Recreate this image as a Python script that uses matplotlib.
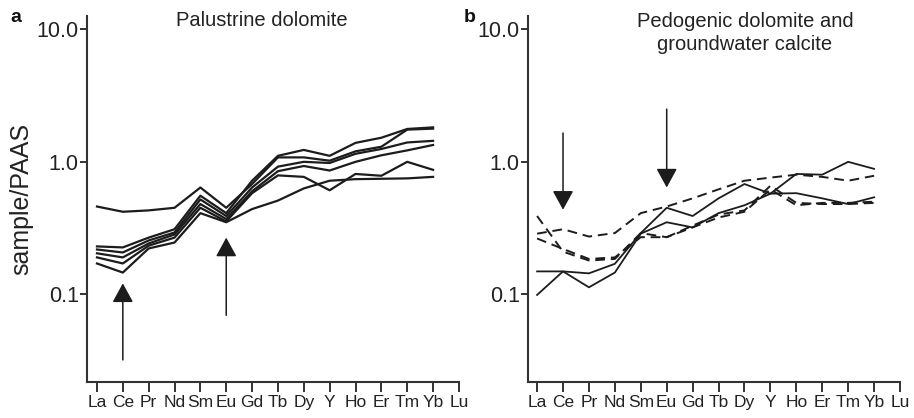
import matplotlib
matplotlib.use("Agg")
import matplotlib.pyplot as plt
from matplotlib import font_manager

elements = ["La", "Ce", "Pr", "Nd", "Sm", "Eu", "Gd", "Tb", "Dy", "Y",
            "Ho", "Er", "Tm", "Yb", "Lu"]

# panel a, palustrine dolomite (values La..Yb, sample/PAAS)
pal_1 = [0.46, 0.42, 0.43, 0.45, 0.64, 0.45, 0.68, 1.08, 1.08, 1.02, 1.20, 1.30, 1.75, 1.78]
pal_2 = [0.23, 0.226, 0.268, 0.31, 0.555, 0.41, 0.72, 1.11, 1.23, 1.11, 1.39, 1.52, 1.77, 1.82]
pal_3 = [0.218, 0.207, 0.255, 0.293, 0.52, 0.39, 0.64, 0.92, 1.00, 0.98, 1.15, 1.25, 1.40, 1.44]
pal_4 = [0.204, 0.19, 0.242, 0.283, 0.48, 0.37, 0.60, 0.85, 0.93, 0.86, 1.00, 1.12, 1.22, 1.34]
pal_5 = [0.19, 0.171, 0.233, 0.268, 0.45, 0.355, 0.58, 0.79, 0.77, 0.61, 0.81, 0.785, 1.00, 0.87]
pal_6 = [0.171, 0.146, 0.222, 0.246, 0.41, 0.35, 0.44, 0.51, 0.63, 0.72, 0.74, 0.745, 0.75, 0.77]
palustrine = [pal_1, pal_2, pal_3, pal_4, pal_5, pal_6]

# panel b, pedogenic dolomite (solid) and groundwater calcite (dashed)
ped_1 = [0.099, 0.149, 0.113, 0.146, 0.287, 0.35, 0.32, 0.41, 0.47, 0.575, 0.81, 0.80, 1.00, 0.885]
ped_2 = [0.149, 0.149, 0.144, 0.17, 0.29, 0.45, 0.39, 0.53, 0.68, 0.575, 0.58, 0.53, 0.48, 0.54]
gw_1 = [0.287, 0.31, 0.273, 0.29, 0.41, 0.46, 0.53, 0.62, 0.72, 0.76, 0.80, 0.77, 0.72, 0.785]
gw_2 = [0.39, 0.21, 0.18, 0.185, 0.29, 0.27, 0.32, 0.38, 0.42, 0.62, 0.47, 0.49, 0.49, 0.50]
gw_3 = [0.264, 0.22, 0.185, 0.19, 0.27, 0.27, 0.33, 0.40, 0.43, 0.66, 0.49, 0.48, 0.48, 0.49]
pedogenic = [ped_1, ped_2]
groundwater = [gw_1, gw_2, gw_3]

# arrows: (element index, tail value, tip value)
arrows_a = [(1, 0.032, 0.121), (5, 0.0695, 0.268)]
arrows_b = [(1, 1.65, 0.435), (5, 2.5, 0.64)]

yticks = [0.1, 1.0, 10.0]
ytick_labels = ["0.1", "1.0", "10.0"]

names = {f.name for f in font_manager.fontManager.ttflist}
if "Liberation Sans Narrow" in names:
    narrow, xsize = "Liberation Sans Narrow", 15.5
elif "DejaVu Sans Condensed" in names:
    narrow, xsize = "DejaVu Sans Condensed", 12.5
else:
    narrow, xsize = "Liberation Sans", 12.5
plt.rcParams["font.family"] = ["Liberation Sans", "DejaVu Sans"]

ink = "#1c1c1c"
fig = plt.figure(figsize=(9.14, 4.18), dpi=100)
ax_a = fig.add_axes([0.0952, 0.0861, 0.4069, 0.8756])
ax_b = fig.add_axes([0.5777, 0.0861, 0.4070, 0.8756])


def style_axis(ax, xleft):
    ax.set_yscale("log")
    ax.set_ylim(0.0218, 12.6)
    ax.set_xlim(xleft, 14.0)
    for s in ["top", "right"]:
        ax.spines[s].set_visible(False)
    for s in ["left", "bottom"]:
        ax.spines[s].set_linewidth(1.5)
        ax.spines[s].set_color("#333333")
    ax.set_yticks(yticks)
    ax.set_yticklabels(ytick_labels)
    ax.yaxis.set_minor_locator(matplotlib.ticker.NullLocator())
    ax.set_xticks(range(len(elements)))
    ax.set_xticklabels(elements, fontfamily=narrow, fontsize=xsize)
    ax.tick_params(axis="y", length=5, width=1.4, pad=1, labelsize=15.5, colors="#333333", labelcolor="#222222")
    ax.tick_params(axis="x", length=7, width=1.4, pad=2, colors="#333333", labelcolor="#222222")


def draw_arrows(ax, arrows):
    for i, tail, tip in arrows:
        ax.annotate("", xy=(i, tip), xytext=(i, tail),
                    arrowprops=dict(arrowstyle="-|>,head_length=0.42,head_width=0.23",
                                    mutation_scale=28, lw=1.1, color=ink,
                                    shrinkA=0, shrinkB=0))


style_axis(ax_a, -0.385)
style_axis(ax_b, -0.35)

for vals in palustrine:
    ax_a.plot(range(len(vals)), vals, color=ink, lw=1.6)
for vals in pedogenic:
    ax_b.plot(range(len(vals)), vals, color=ink, lw=1.3)
for vals in groundwater:
    ax_b.plot(range(len(vals)), vals, color=ink, lw=1.4, dashes=(5, 3))

draw_arrows(ax_a, arrows_a)
draw_arrows(ax_b, arrows_b)

ax_a.set_ylabel("sample/PAAS", fontsize=18, color="#222222")
ax_a.yaxis.set_label_coords(-0.145, 0.5)

fig.text(262 / 914, 1 - 20 / 418, "Palustrine dolomite", fontsize=14.5,
         ha="center", va="center", color="#222222")
fig.text(745 / 914, 1 - 33 / 418, "Pedogenic dolomite and\ngroundwater calcite",
         fontsize=14.5, ha="center", va="center", color="#222222", linespacing=1.25)
fig.text(16 / 914, 1 - 17 / 418, "a", fontsize=14, fontweight="bold",
         ha="center", va="center", color="#111111")
fig.text(470 / 914, 1 - 17 / 418, "b", fontsize=14, fontweight="bold",
         ha="center", va="center", color="#111111")

fig.savefig("out.png", dpi=100)
